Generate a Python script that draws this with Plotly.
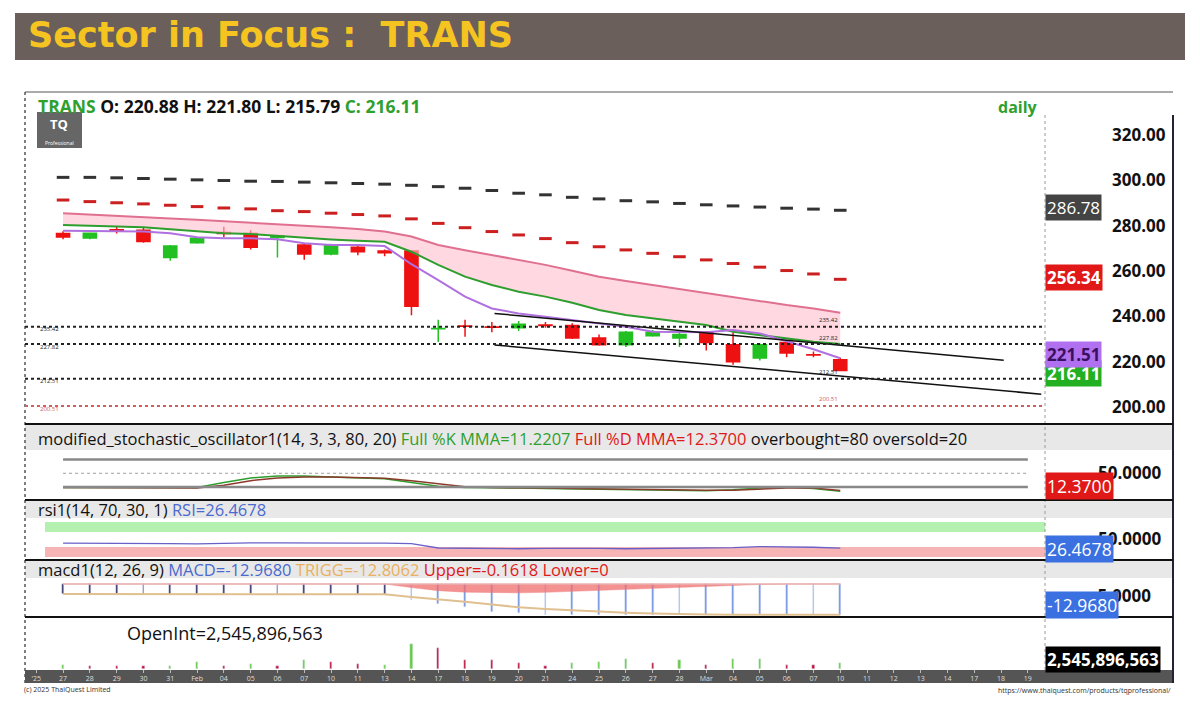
import plotly.graph_objects as go

# ---------------- data ----------------
tick_labels = ["'25", "27", "28", "29", "30", "31", "Feb", "04", "05", "06", "07", "10", "11", "13", "14",
               "17", "18", "19", "20", "21", "24", "25", "26", "27", "28", "Mar", "04", "05", "06", "07",
               "10", "11", "12", "13", "14", "17", "18", "19"]
tick_pos = list(range(-1, len(tick_labels) - 1))

opens = [276.5, 274.6, 278.2, 278.0, 266.0, 272.5, 277.0, 276.5, 274.8, 271.5, 267.5, 270.5, 268.8, 268.8,
         234.5, 235.7, 235.3, 235.0, 236.2, 236.0, 230.5, 227.5, 231.5, 230.5, 233.0, 227.5, 221.6, 228.5, 223.1, 220.88]
highs = [277.5, 277.0, 279.5, 279.0, 271.5, 275.0, 279.5, 278.0, 276.0, 272.0, 272.0, 271.0, 269.5, 269.0,
         238.5, 238.5, 237.5, 238.0, 237.5, 237.0, 232.0, 233.5, 234.0, 233.0, 233.5, 233.0, 228.0, 229.5, 224.5, 221.80]
lows = [274.0, 274.0, 276.5, 272.5, 264.5, 272.0, 275.0, 269.5, 266.0, 265.0, 267.0, 267.0, 266.5, 240.5,
        228.7, 231.0, 233.0, 233.5, 235.0, 230.0, 227.0, 226.5, 231.0, 226.5, 225.0, 218.7, 220.5, 222.0, 222.0, 215.79]
closes = [275.0, 276.6, 277.8, 273.0, 271.0, 274.5, 276.5, 270.5, 275.5, 267.5, 271.5, 268.5, 268.0, 244.5,
          234.6, 235.6, 235.2, 236.5, 236.0, 230.5, 227.5, 233.0, 233.0, 232.0, 228.5, 220.0, 227.5, 223.8, 223.0, 216.11]

upper_band = [301.3, 301.3, 301.1, 300.8, 300.5, 300.2, 299.9, 299.6, 299.5, 299.2, 298.9, 298.6, 298.3, 297.8,
              297.2, 296.5, 295.5, 294.3, 293.6, 292.5, 291.8, 291.0, 290.5, 289.8, 289.2, 288.7, 288.2, 287.7, 287.3, 286.78]
mid_band = [291.3, 290.6, 290.1, 289.6, 289.0, 288.4, 287.8, 287.4, 286.6, 286.2, 285.5, 284.9, 284.3, 283.0,
            281.0, 279.1, 277.4, 275.9, 274.3, 272.5, 270.7, 269.3, 267.8, 266.3, 264.9, 263.3, 261.7, 260.2, 258.7, 256.34]
pink_ma = [285.5, 285.0, 284.4, 283.8, 283.2, 282.6, 282.0, 281.3, 280.7, 280.0, 279.3, 278.5, 277.4, 275.2,
           271.5, 269.2, 267.0, 264.8, 262.7, 260.1, 257.5, 255.6, 253.8, 252.0, 250.2, 248.3, 246.5, 245.0, 243.5, 241.6]
green_ma = [280.3, 280.0, 279.5, 279.3, 278.4, 277.4, 276.6, 276.3, 275.4, 274.8, 273.9, 273.3, 272.9, 268.5,
            262.7, 257.5, 253.8, 250.9, 248.7, 246.0, 242.8, 240.6, 239.1, 237.6, 236.2, 233.2, 231.8, 230.3, 228.8, 227.8]
purple_ma = [277.8, 277.7, 277.5, 277.4, 276.6, 274.9, 274.4, 274.4, 274.0, 272.2, 271.5, 271.5, 271.0, 263.0,
             256.0, 248.7, 243.5, 241.3, 239.8, 238.4, 236.9, 235.4, 233.2, 233.0, 233.0, 234.0, 232.5, 229.0, 225.5, 221.51]

chan_x = [16.1, 35.1]
chan_upper = [241.3, 220.7]
chan_lower_x = [16.1, 36.5]
chan_lower = [227.4, 205.7]
levels = [235.42, 227.82, 212.51, 200.51]
level_colors = ["#222222", "#222222", "#222222", "#d06060"]

stoch_k = [19, 19, 19, 18, 18, 19, 30, 40, 44, 44, 42, 40, 38, 30, 22, 19, 19, 18, 17, 16, 15, 14, 13, 13, 12, 14, 18, 20, 17, 11.22]
stoch_d = [19, 19, 19, 19, 18, 18, 24, 34, 40, 42, 42, 41, 39, 34, 27, 21, 19, 19, 18, 17, 16, 15, 14, 13, 13, 13, 15, 18, 18, 12.37]
rsi = [40, 40, 41, 40, 39, 38, 40, 41, 41, 40, 39, 40, 40, 39, 27, 26, 26, 25, 26, 27, 26, 25, 26, 27, 26, 28, 31, 31, 29, 26.47]
macd = [-4.3, -4.3, -4.2, -4.3, -4.4, -4.4, -4.3, -4.3, -4.4, -4.4, -4.5, -4.5, -4.5, -6.7, -8.4, -9.4, -11.5, -12.1, -12.9,
        -12.9, -12.9, -12.9, -12.8, -12.8, -12.8, -12.9, -12.9, -12.9, -12.9, -12.97]
trigg = [-4.2, -4.2, -4.2, -4.2, -4.2, -4.2, -4.2, -4.2, -4.2, -4.2, -4.2, -4.2, -4.3, -5.4, -6.3, -7.4, -8.6, -9.7, -10.4,
         -11.0, -11.6, -12.0, -12.3, -12.6, -12.7, -12.8, -12.8, -12.8, -12.8, -12.81]
macd_hist = [0, 0, 0, 0, 0, 0, 0, 0, 0, 0, 0, 0, 0, -1.5, -2.8, -3.4, -3.7, -3.7, -3.5, -3.1, -2.6, -2.1, -1.6, -1.2,
             -0.8, -0.5, -0.2, 0, 0, 0]
open_int = [12, 10, 10, 8, 10, 22, 10, 15, 10, 28, 22, 14, 13, 76, 66, 28, 28, 20, 10, 18, 22, 30, 20, 28, 13, 30, 30, 13, 12, 18]
oi_dir = ["u", "d", "d", "d", "u", "u", "d", "u", "d", "u", "d", "d", "u", "u", "d", "d", "d", "d", "d", "u",
          "u", "u", "d", "u", "d", "u", "u", "d", "d", "u"]

n = len(closes)
idx = list(range(n))

OFF = 8  # page body margin
W, H = 1200 - OFF, 713 - OFF

def py(y):
    return 1 - (y - OFF) / H

def px(x):
    return (x - OFF) / W

fig = go.Figure()

# ----- main panel -----
fig.add_trace(go.Scatter(x=idx, y=green_ma, mode="lines", line=dict(color="#2e9e2e", width=2), yaxis="y", hoverinfo="skip"))
fig.add_trace(go.Scatter(x=idx, y=pink_ma, mode="lines", line=dict(color="#e07090", width=2), fill="tonexty",
                         fillcolor="rgba(255,190,205,0.6)", yaxis="y", hoverinfo="skip"))
fig.add_trace(go.Scatter(x=idx, y=purple_ma, mode="lines", line=dict(color="#b070e0", width=2), yaxis="y", hoverinfo="skip"))
fig.add_trace(go.Scatter(x=idx, y=upper_band, mode="markers",
                         marker=dict(symbol="line-ew", size=9, line=dict(color="#333333", width=3)), yaxis="y"))
fig.add_trace(go.Scatter(x=idx, y=mid_band, mode="markers",
                         marker=dict(symbol="line-ew", size=9, line=dict(color="#cc2020", width=3)), yaxis="y"))
fig.add_trace(go.Scatter(x=chan_x, y=chan_upper, mode="lines", line=dict(color="#111111", width=1.5), yaxis="y"))
fig.add_trace(go.Scatter(x=chan_lower_x, y=chan_lower, mode="lines", line=dict(color="#111111", width=1.5), yaxis="y"))
fig.add_trace(go.Candlestick(x=idx, open=opens, high=highs, low=lows, close=closes, yaxis="y",
                             increasing=dict(line=dict(color="#22c022", width=1.5), fillcolor="#22c022"),
                             decreasing=dict(line=dict(color="#ee1111", width=1.5), fillcolor="#ee1111"),
                             whiskerwidth=0))

# ----- stochastic -----
fig.add_trace(go.Scatter(x=idx, y=stoch_k, mode="lines", line=dict(color="#2e9e2e", width=1.5), yaxis="y2"))
fig.add_trace(go.Scatter(x=idx, y=stoch_d, mode="lines", line=dict(color="#8b3a2a", width=1.5), yaxis="y2"))
# ----- rsi -----
fig.add_trace(go.Scatter(x=idx, y=rsi, mode="lines", line=dict(color="#6a60c8", width=1.3), yaxis="y3"))
# ----- macd -----
fig.add_trace(go.Scatter(x=idx, y=macd_hist, mode="lines", line=dict(color="rgba(240,120,120,0.8)", width=0.5),
                         fill="tozeroy", fillcolor="rgba(240,110,110,0.75)", yaxis="y4"))
fig.add_trace(go.Bar(x=idx, y=macd, width=0.07, marker=dict(color=["#333366" if i < 13 else "#7090e0" for i in idx]),
                     yaxis="y4"))
fig.add_trace(go.Scatter(x=idx, y=trigg, mode="lines", line=dict(color="#e0c090", width=2), yaxis="y4"))
# ----- open interest -----
fig.add_trace(go.Bar(x=idx, y=open_int, width=0.08,
                     marker=dict(color=["#66cc44" if d == "u" else "#c0103a" for d in oi_dir]), yaxis="y5"))

xl, xr, xe = px(25), px(1045), px(1173)
ax_font = dict(family="Open Sans", size=17, color="#111111")
fig.update_layout(
    width=W, height=H, margin=dict(l=0, r=0, t=0, b=0), showlegend=False,
    paper_bgcolor="white", plot_bgcolor="white",
    xaxis=dict(domain=[xl, xr], range=[-1.42, 36.64], anchor="y5", tickmode="array", tickvals=tick_pos,
               ticktext=tick_labels, tickfont=dict(family="Open Sans", size=7, color="#dddddd"),
               showgrid=False, zeroline=False, rangeslider=dict(visible=False), ticks="outside",
               ticklen=3, tickcolor="#bbbbbb", ticklabelstandoff=0),
    yaxis=dict(domain=[py(420), py(93)], range=[194.3, 338.5], side="right", tickmode="array",
               tickvals=[200, 220, 240, 260, 280, 300, 320],
               ticktext=["<b>200.00</b>", "<b>220.00</b>", "<b>240.00</b>", "<b>260.00</b>", "<b>280.00</b>",
                         "<b>300.00</b>", "<b>320.00</b>"],
               tickfont=ax_font, ticklabelstandoff=66, showgrid=False, zeroline=False, ticks=""),
    yaxis2=dict(domain=[py(497), py(450)], range=[-1.5, 100.6], side="right", tickvals=[50], ticktext=["<b>50.0000</b>"],
                tickfont=ax_font, ticklabelstandoff=52, showgrid=False, zeroline=False),
    yaxis3=dict(domain=[py(558), py(521)], range=[0, 100], side="right", tickvals=[50], ticktext=["<b>50.0000</b>"],
                tickfont=ax_font, ticklabelstandoff=52, showgrid=False, zeroline=False),
    yaxis4=dict(domain=[py(618), py(578)], range=[-14.2, 2.5], side="right", tickvals=[-5], ticktext=["<b>-5.0000</b>"],
                tickfont=ax_font, ticklabelstandoff=46, showgrid=False, zeroline=False),
    yaxis5=dict(domain=[py(669), py(622)], range=[0, 145], side="right", showticklabels=False,
                showgrid=False, zeroline=False),
    bargap=0,
)

shapes = []
shapes.append(dict(type="rect", xref="paper", yref="paper", x0=px(15), x1=px(1185), y0=py(60), y1=py(13),
                   fillcolor="#6b5f5b", line=dict(width=0), layer="below"))
shapes.append(dict(type="line", xref="paper", yref="paper", x0=xl, x1=xe, y0=py(92), y1=py(92),
                   line=dict(color="#aaaaaa", width=2)))
shapes.append(dict(type="line", xref="paper", yref="paper", x0=xl, x1=xl, y0=py(683), y1=py(92),
                   line=dict(color="#555555", width=1.5, dash="dot")))
shapes.append(dict(type="line", xref="paper", yref="paper", x0=xe, x1=xe, y0=py(683), y1=py(115),
                   line=dict(color="#222233", width=2)))
shapes.append(dict(type="line", xref="paper", yref="paper", x0=xr, x1=xr, y0=py(670), y1=py(115),
                   line=dict(color="#999999", width=1, dash="dot")))
for top, bot in [(424, 450), (500, 518), (560, 578)]:
    shapes.append(dict(type="rect", xref="paper", yref="paper", x0=xl, x1=xe, y0=py(bot), y1=py(top),
                       fillcolor="#e8e8e8", line=dict(width=0), layer="below"))
for ysep in [424, 500, 560, 617]:
    shapes.append(dict(type="line", xref="paper", yref="paper", x0=xl, x1=xe, y0=py(ysep), y1=py(ysep),
                       line=dict(color="#111111", width=2)))
shapes.append(dict(type="rect", xref="paper", yref="paper", x0=xl, x1=xe, y0=py(683), y1=py(670),
                   fillcolor="#555555", line=dict(width=0), layer="below"))
for lv, col in zip(levels, level_colors):
    shapes.append(dict(type="line", xref="paper", yref="y", x0=xl, x1=xr, y0=lv, y1=lv,
                       line=dict(color=col, width=2, dash="dot")))
for lv, dash, w in [(80, "solid", 2.5), (50, "dot", 0.8), (20, "solid", 2.5)]:
    shapes.append(dict(type="line", xref="x", yref="y2", x0=0, x1=36, y0=lv, y1=lv,
                       line=dict(color="#888888", width=w, dash=dash)))
shapes.append(dict(type="rect", xref="paper", yref="y3", x0=px(45), x1=xr, y0=70, y1=97,
                   fillcolor="#b4f0b0", line=dict(width=0), layer="below"))
shapes.append(dict(type="rect", xref="paper", yref="y3", x0=px(45), x1=xr, y0=3, y1=30,
                   fillcolor="#f6b4b4", line=dict(width=0), layer="below"))
shapes.append(dict(type="line", xref="x", yref="y4", x0=0, x1=29, y0=0, y1=0, line=dict(color="#e8b0b0", width=1.5)))
shapes.append(dict(type="rect", xref="paper", yref="paper", x0=px(37), x1=px(82), y0=py(148), y1=py(112),
                   fillcolor="#666666", line=dict(width=0)))

ann = []
def A(x, y, text, size=12, color="#111", xanchor="left", bold=False, bg=None, family="Open Sans"):
    t = f"<b>{text}</b>" if bold else text
    d = dict(xref="paper", yref="paper", x=px(x), y=py(y), text=t, showarrow=False, xanchor=xanchor,
             yanchor="middle", font=dict(size=size, color=color, family=family))
    if bg:
        d.update(bgcolor=bg, borderpad=1)
    ann.append(d)

A(26, 35, "Sector in Focus :  TRANS", 35, "#f5c421", bold=True, family="DejaVu Sans")
A(36, 106, "<span style='color:#2ea02e'>TRANS</span> O: 220.88 H: 221.80 L: 215.79 "
           "<span style='color:#2ea02e'>C: 216.11</span>", 17.5, "#111111", bold=True)
A(1040, 107, "daily", 16, "#2ea02e", xanchor="right", bold=True)
A(59, 124, "TQ", 13, "white", xanchor="center", bold=True)
A(59, 143, "Professional", 5, "white", xanchor="center")
for lv, col, yl, yr in zip(levels, level_colors, [329, 347, 381, 409], [320, 338, 372, 399]):
    A(38, yl, f"{lv:.2f}", 6, col)
    A(840, yr, f"{lv:.2f}", 6, col, xanchor="right")
A(1045, 208, "286.78", 17, "white", bg="#444444")
A(1045, 277, "256.34", 17, "white", bold=True, bg="#e01818")
A(1045, 373, "216.11", 17, "white", bold=True, bg="#22b022")
A(1045, 355, "221.51", 17, "#3a1060", bold=True, bg="#b070f0")
A(36, 438, "modified_stochastic_oscillator1(14, 3, 3, 80, 20) <span style='color:#2ea02e'>Full %K MMA=11.2207</span> "
           "<span style='color:#e01818'>Full %D MMA=12.3700</span> overbought=80 oversold=20", 16.5, "#111111")
A(36, 509, "rsi1(14, 70, 30, 1) <span style='color:#4a6ad0'>RSI=26.4678</span>", 16.5, "#111111")
A(36, 569, "macd1(12, 26, 9) <span style='color:#4a6ad0'>MACD=-12.9680</span> <span style='color:#e8b060'>TRIGG=-12.8062</span> "
           "<span style='color:#e01818'>Upper=-0.1618 Lower=0</span>", 16.5, "#111111")
A(125, 633, "OpenInt=2,545,896,563", 18, "#111111")
A(1045, 486, "12.3700", 17.5, "white", bg="#e01818")
A(1045, 549, "26.4678", 17.5, "white", bg="#3a70e0")
A(1045, 605, "-12.9680", 17.5, "white", bg="#3a70e0")
A(1045, 659, "2,545,896,563", 17, "white", bold=True, bg="#000000")
A(22, 689, "(c) 2025 ThaiQuest Limited", 7, "#333333")
A(1173, 690, "https://www.thaiquest.com/products/tqprofessional/", 7, "#333333", xanchor="right")

fig.update_layout(shapes=shapes, annotations=ann)
fig.write_html("out.html")
